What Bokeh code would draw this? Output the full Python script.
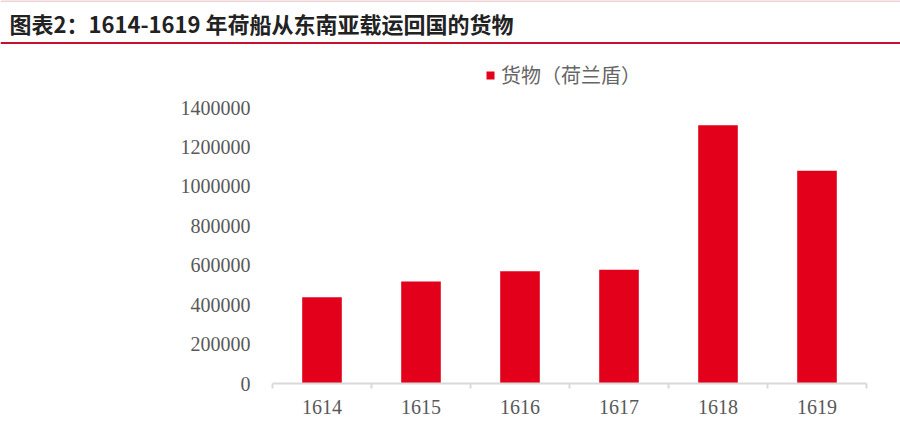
from bokeh.plotting import figure
from bokeh.models import Range1d, FixedTicker, Label, Span, Legend, LegendItem
from bokeh.layouts import column, row
from bokeh.embed import file_html
from bokeh.resources import INLINE

# ---- data ----
years = ["1614", "1615", "1616", "1617", "1618", "1619"]
cargo = [437000, 517000, 570000, 577000, 1310000, 1079000]
y_ticks = [0, 200000, 400000, 600000, 800000, 1000000, 1200000, 1400000]
title_text = "图表2：1614-1619 年荷船从东南亚载运回国的货物"
series_name = "货物（荷兰盾）"

RED = "#E2001A"
GRAY_TXT = "#595959"
W = 900
HEAD_H = 46
CHART_H = 380

# ---- header ----
head = figure(width=W, height=HEAD_H, x_range=Range1d(0, W), y_range=Range1d(0, HEAD_H),
              output_backend="svg", toolbar_location=None, min_border=0,
              x_axis_location=None, y_axis_location=None)
head.grid.visible = False
head.outline_line_color = None
head.add_layout(Label(x=9, y=24, text=title_text, text_font="Noto Sans CJK SC",
                      text_font_style="bold", text_font_size="22px", text_color="#222222",
                      text_baseline="middle", text_align="left"))
head.add_layout(Span(location=3.5, dimension="width", line_color="#C8102E", line_width=2))
head.add_layout(Span(location=45.5, dimension="width", line_color="#E3A3AA", line_width=1))

# ---- chart ----
n = len(years)
xs = [i + 0.5 for i in range(n)]
frame_top_px, tick_top_px, base_px = 4, 61, 337
y_end = y_ticks[-1] * (base_px - frame_top_px) / (base_px - tick_top_px)
p = figure(width=W, height=CHART_H, x_range=Range1d(0, n), y_range=Range1d(0, y_end),
           output_backend="svg", toolbar_location=None,
           min_border_left=272, min_border_right=34, min_border_top=frame_top_px,
           min_border_bottom=CHART_H - base_px)
p.grid.visible = False
p.outline_line_color = None

r = p.vbar(x=xs, top=cargo, width=0.40, fill_color=RED, line_color=None)

xa = p.xaxis[0]
xa.ticker = FixedTicker(ticks=xs, minor_ticks=list(range(n + 1)))
xa.major_label_overrides = {x: y for x, y in zip(xs, years)}
xa.major_tick_line_color = None
xa.major_tick_out = 0
xa.major_tick_in = 0
xa.minor_tick_out = 5
xa.minor_tick_in = 0
xa.minor_tick_line_color = "#D9D9D9"
xa.minor_tick_line_width = 2
xa.axis_line_color = "#D9D9D9"
xa.axis_line_width = 2
xa.major_label_standoff = 11
xa.major_label_text_font = "Liberation Serif"
xa.major_label_text_font_size = "20px"
xa.major_label_text_color = GRAY_TXT

ya = p.yaxis[0]
ya.ticker = FixedTicker(ticks=y_ticks)
ya.major_label_overrides = {v: str(v) for v in y_ticks}
ya.axis_line_color = None
ya.major_tick_line_color = None
ya.minor_tick_line_color = None
ya.major_tick_out = 0
ya.major_label_standoff = 22
ya.major_label_text_font = "Liberation Serif"
ya.major_label_text_font_size = "20px"
ya.major_label_text_color = GRAY_TXT

legend = Legend(items=[LegendItem(label=series_name, renderers=[r])], location=(213, 294),
                orientation="horizontal", padding=0, margin=0, spacing=0,
                glyph_width=10, glyph_height=10, label_standoff=6, label_height=10,
                border_line_color=None, background_fill_alpha=0,
                label_text_font="Noto Sans CJK SC", label_text_font_size="20px",
                label_text_color="#666666")
p.add_layout(legend, "center")

layout = column(head, row(p), spacing=0)
open("out.html", "w").write(file_html(layout, INLINE))
